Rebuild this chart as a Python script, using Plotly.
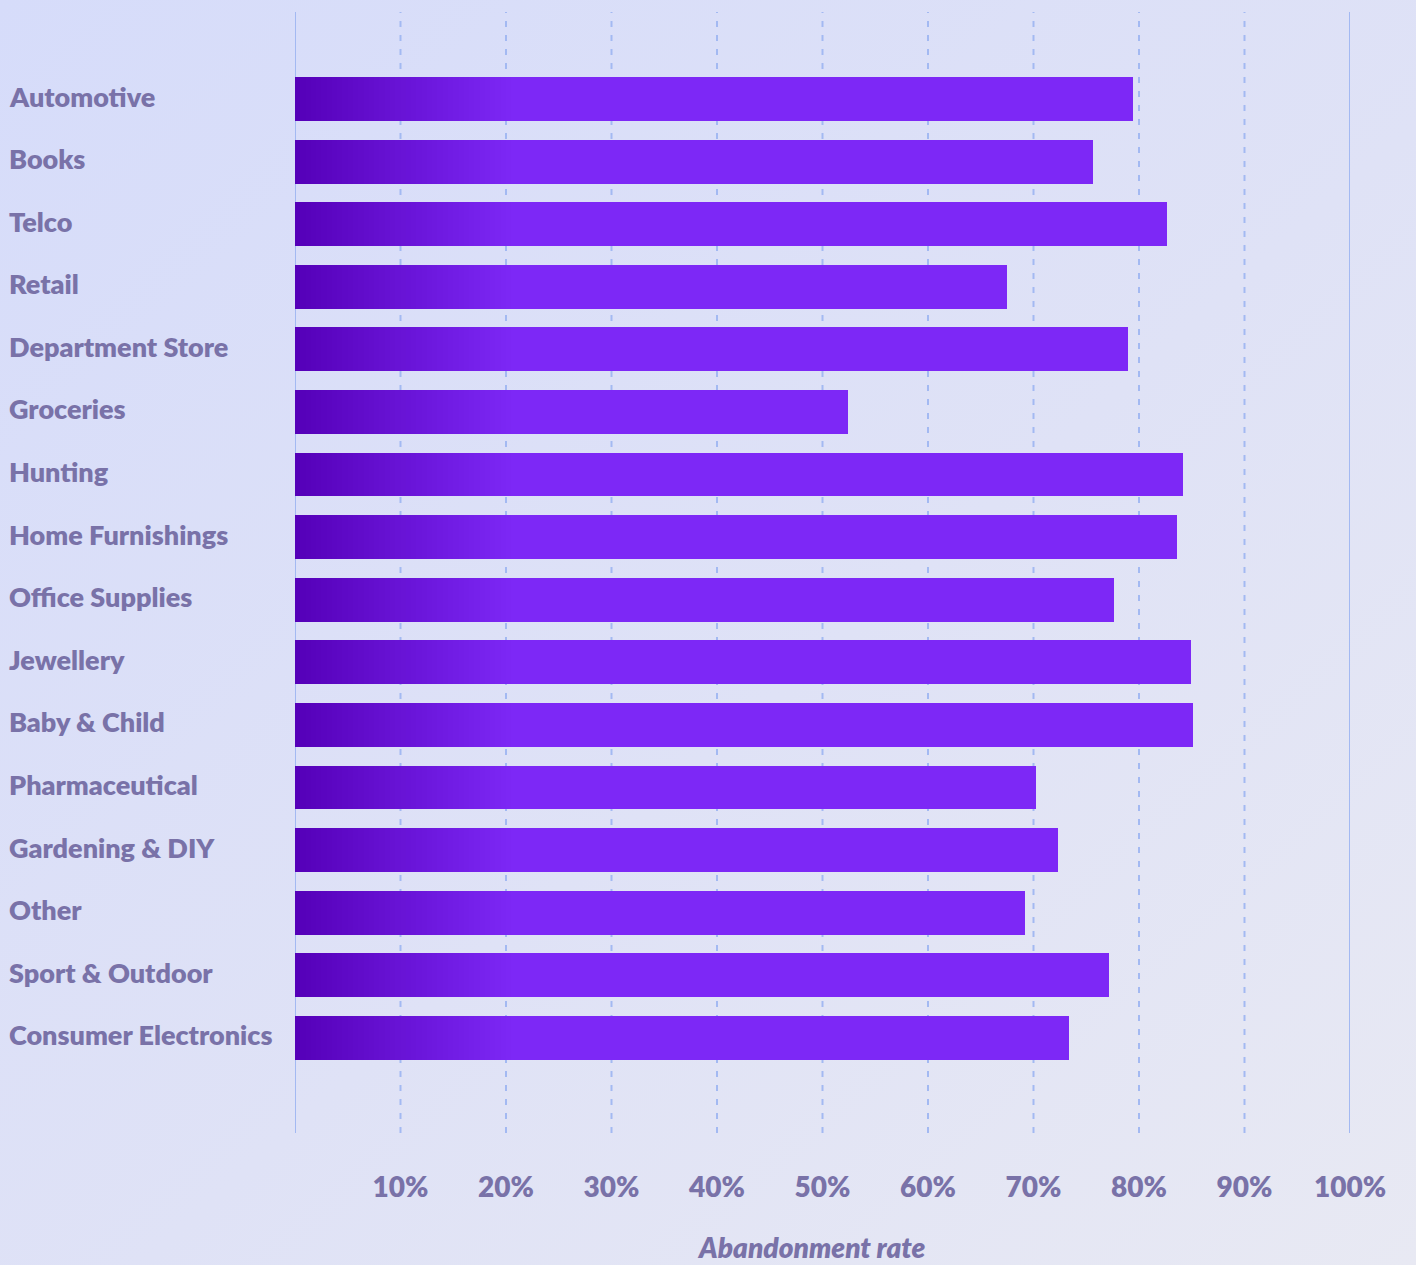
import base64
import plotly.graph_objects as go

# Cart abandonment rate by retail sector (%)
categories = [
    "Automotive", "Books", "Telco", "Retail", "Department Store", "Groceries",
    "Hunting", "Home Furnishings", "Office Supplies", "Jewellery", "Baby & Child",
    "Pharmaceutical", "Gardening & DIY", "Other", "Sport & Outdoor",
    "Consumer Electronics",
]
rates = [79.4, 75.6, 82.7, 67.5, 79.0, 52.4, 84.2, 83.6, 77.6, 84.9, 85.1,
         70.2, 72.3, 69.2, 77.2, 73.4]

tick_values = [10, 20, 30, 40, 50, 60, 70, 80, 90, 100]
tick_labels = ["10%", "20%", "30%", "40%", "50%", "60%", "70%", "80%", "90%", "100%"]

W, H = 1416, 1265
M_L, M_R, M_T, M_B = 295, 66, 12, 132
PW, PH = W - M_L - M_R, H - M_T - M_B

TEXT = "#7972a8"
GRID = "#a3b9f2"
BAR = "#7d28f6"
BAR_DARK = (85, 0, 184)
BAR_LIGHT = (125, 40, 246)
FONT = "Lato"

fig = go.Figure()

# Full-length bars in the main colour
fig.add_trace(go.Bar(
    y=categories, x=rates, orientation="h", width=0.7,
    marker=dict(color=BAR, line=dict(width=0)), hoverinfo="x+y",
))

# Dark-to-light shading along the first stretch of each bar
shade_span = 21.0
n_steps = 42
step = shade_span / n_steps
for i in range(n_steps):
    t = i / (n_steps - 1)
    r, g, b = (round(BAR_DARK[k] + (BAR_LIGHT[k] - BAR_DARK[k]) * t) for k in range(3))
    start = i * step
    fig.add_trace(go.Bar(
        y=categories,
        x=[max(0.0, min(step * 1.6, v - start)) for v in rates],
        base=[start] * len(rates),
        orientation="h", width=0.7,
        marker=dict(color=f"rgb({r},{g},{b})", line=dict(width=0)),
        hoverinfo="skip", showlegend=False,
    ))

# Vertical guide lines: solid at the ends, dashed in between
for v in [0] + tick_values:
    solid = v in (0, 100)
    fig.add_shape(
        type="line", xref="x", yref="paper", x0=v, x1=v, y0=0, y1=1,
        line=dict(color=GRID, width=2, dash="solid" if solid else "6px,8px"),
        layer="below",
    )

# Left-aligned category labels
for c in categories:
    fig.add_annotation(
        x=(7 - M_L) / PW, xref="paper", y=c, yref="y", yshift=3,
        text=c, showarrow=False, xanchor="left", yanchor="middle",
        font=dict(family=FONT, size=27, color=TEXT, weight=800),
    )

# Axis title
fig.add_annotation(
    x=(811 - M_L) / PW, xref="paper", y=-(1247 - (M_T + PH)) / PH, yref="paper",
    text="<i>Abandonment rate</i>", showarrow=False,
    xanchor="center", yanchor="middle",
    font=dict(family=FONT, size=28, color=TEXT, weight=800),
)

# Soft lavender backdrop
svg = (
    f'<svg xmlns="http://www.w3.org/2000/svg" width="{W}" height="{H}">'
    '<defs><linearGradient id="g" x1="0" y1="0" x2="1" y2="1">'
    '<stop offset="0" stop-color="#d6dcfa"/>'
    '<stop offset="0.55" stop-color="#dfe2f6"/>'
    '<stop offset="1" stop-color="#e8e9f3"/>'
    '</linearGradient></defs>'
    f'<rect width="{W}" height="{H}" fill="url(#g)"/></svg>'
)
bg = "data:image/svg+xml;base64," + base64.b64encode(svg.encode()).decode()
fig.add_layout_image(
    source=bg, xref="paper", yref="paper",
    x=-M_L / PW, y=1 + M_T / PH, sizex=W / PW, sizey=H / PH,
    xanchor="left", yanchor="top", sizing="stretch", layer="below",
)

n = len(categories)
fig.update_layout(
    width=W, height=H,
    margin=dict(l=M_L, r=M_R, t=M_T, b=M_B, pad=0),
    paper_bgcolor="#dde1f6", plot_bgcolor="rgba(0,0,0,0)",
    barmode="overlay", bargap=0, showlegend=False,
    xaxis=dict(
        range=[0, 100], tickvals=tick_values, ticktext=tick_labels,
        showgrid=False, zeroline=False, showline=False, ticks="",
        tickfont=dict(family=FONT, size=28, color=TEXT, weight=800),
        ticklabelstandoff=35,
    ),
    yaxis=dict(
        type="category", categoryorder="array", categoryarray=categories,
        range=[n - 1 + 1.52, -1.39],
        showticklabels=False, showgrid=False, zeroline=False, showline=False,
        ticks="",
    ),
)

fig.write_html("out.html")
